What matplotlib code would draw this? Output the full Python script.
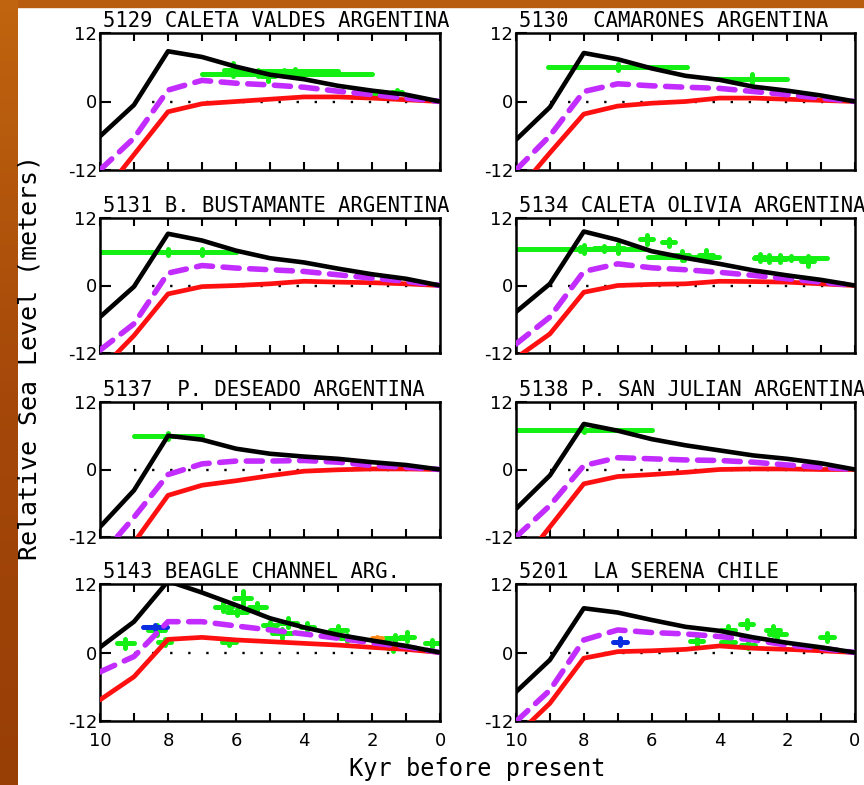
import numpy as np
import matplotlib.pyplot as plt
from matplotlib.patches import Rectangle
from matplotlib.colors import LinearSegmentedColormap
from matplotlib.ticker import MultipleLocator

plt.rcParams['axes.unicode_minus'] = False

# model time steps, kyr before present
ages = [10, 9, 8, 7, 6, 5, 4, 3, 2, 1, 0]

# predicted relative sea level (m) for three earth models at each site
black_5129 = [-6.1, -0.6, 8.8, 7.8, 6.1, 4.7, 3.9, 2.75, 1.9, 1.2, 0]
purple_5129 = [-12.0, -6.4, 2.0, 3.7, 3.2, 2.9, 2.5, 1.8, 1.2, 0.6, 0]
red_5129 = [-16.8, -9.3, -1.8, -0.4, 0.0, 0.4, 0.8, 0.8, 0.6, 0.3, 0]

black_5130 = [-6.7, -1.0, 8.5, 7.4, 5.8, 4.5, 3.8, 2.6, 1.9, 1.05, 0]
purple_5130 = [-12.0, -6.0, 1.75, 3.1, 2.75, 2.5, 2.3, 1.75, 1.2, 0.6, 0]
red_5130 = [-16.0, -9.0, -2.2, -0.8, -0.3, 0.0, 0.6, 0.6, 0.4, 0.2, 0]

black_5131 = [-5.6, -0.2, 9.2, 8.0, 6.2, 4.85, 4.1, 3.0, 2.0, 1.2, 0]
purple_5131 = [-11.5, -6.8, 2.2, 3.55, 3.1, 2.8, 2.5, 1.9, 1.3, 0.75, 0]
red_5131 = [-15.1, -8.9, -1.5, -0.2, 0.0, 0.3, 0.75, 0.6, 0.5, 0.3, 0]

black_5134 = [-4.7, 0.3, 9.6, 8.1, 6.1, 4.9, 3.85, 2.7, 1.8, 1.0, 0]
purple_5134 = [-10.4, -5.6, 2.5, 3.85, 3.15, 2.8, 2.35, 1.8, 1.2, 0.6, 0]
red_5134 = [-12.9, -8.6, -1.2, 0.0, 0.2, 0.3, 0.75, 0.7, 0.6, 0.3, 0]

black_5137 = [-10.2, -3.7, 6.0, 5.3, 3.7, 2.8, 2.3, 1.9, 1.3, 0.8, 0]
purple_5137 = [-15.5, -8.5, -0.9, 1.0, 1.5, 1.5, 1.6, 1.3, 0.7, 0.4, 0]
red_5137 = [-20.0, -13.0, -4.6, -2.8, -2.0, -1.1, -0.3, -0.05, 0.1, 0.1, 0]

black_5138 = [-7.0, -1.05, 8.1, 6.9, 5.4, 4.3, 3.4, 2.5, 1.9, 1.1, 0]
purple_5138 = [-12.0, -6.4, 0.7, 2.1, 1.9, 1.7, 1.6, 1.3, 0.8, 0.4, 0]
red_5138 = [-17.8, -10.2, -2.55, -1.25, -0.9, -0.5, 0.0, 0.1, 0.1, 0.0, 0]

black_5143 = [0.9, 5.4, 12.5, 10.5, 8.3, 6.0, 4.4, 3.1, 2.1, 1.15, 0]
purple_5143 = [-3.4, -0.7, 5.4, 5.4, 4.65, 3.95, 3.25, 2.5, 1.7, 1.0, 0]
red_5143 = [-8.3, -4.25, 2.3, 2.65, 2.2, 1.9, 1.6, 1.3, 0.9, 0.55, 0]

black_5201 = [-6.9, -1.3, 7.75, 7.0, 5.7, 4.5, 3.8, 2.65, 1.7, 0.9, 0]
purple_5201 = [-12.1, -6.6, 2.2, 3.95, 3.5, 3.25, 2.8, 2.2, 1.3, 0.75, 0]
red_5201 = [-14.6, -8.9, -1.0, 0.15, 0.3, 0.55, 1.15, 0.75, 0.55, 0.3, 0]

# observed sea-level indicators: (age, age error, height, height error)
obs_5129 = [(4.5, 2.5, 4.8, 0.2), (4.6, 1.6, 5.3, 0.2), (6.1, 0.25, 5.6, 1.2),
            (5.35, 0.25, 5.0, 0.6), (5.06, 0.2, 4.5, 0.9), (4.26, 0.3, 5.1, 0.6),
            (1.27, 0.15, 1.7, 0.4), (2.06, 0.3, 1.1, 0.3)]
obs_5130 = [(7.0, 2.05, 6.0, 0.5), (3.05, 1.05, 4.0, 0.8)]
obs_5131 = [(8.0, 2.0, 6.0, 0.5), (7.0, 1.0, 6.0, 0.5)]
obs_5134 = [(8.1, 1.9, 6.5, 0.3), (8.0, 0.2, 6.5, 0.7), (7.0, 0.2, 6.6, 0.8),
            (7.4, 0.3, 6.6, 0.5), (6.15, 0.2, 8.2, 0.8), (5.5, 0.2, 7.7, 0.6),
            (5.05, 1.05, 5.0, 0.4), (5.1, 0.2, 5.4, 0.8), (4.4, 0.2, 5.5, 0.9),
            (1.9, 1.07, 4.9, 0.4), (2.8, 0.15, 5.0, 0.6), (2.55, 0.2, 4.8, 0.7),
            (2.2, 0.15, 4.8, 0.6), (1.4, 0.2, 4.4, 0.9)]
obs_5137 = [(8.0, 1.0, 6.0, 0.5)]
obs_5138 = [(8.0, 2.0, 7.0, 0.4)]
obs_5143 = [(9.26, 0.25, 1.6, 0.8), (8.33, 0.25, 3.9, 0.9), (8.1, 0.2, 1.8, 0.5),
            (6.38, 0.25, 8.0, 0.8), (6.2, 0.2, 1.9, 0.5), (5.97, 0.3, 7.1, 0.6),
            (5.8, 0.25, 9.5, 1.2), (5.38, 0.25, 8.0, 0.7), (5.0, 0.2, 4.8, 0.6),
            (4.65, 0.3, 3.4, 0.8), (4.47, 0.25, 5.2, 0.8), (3.9, 0.2, 4.5, 0.6),
            (3.0, 0.25, 3.9, 0.8), (2.75, 0.2, 2.5, 0.5), (1.32, 0.3, 2.5, 0.6),
            (0.97, 0.2, 2.8, 0.8), (1.38, 0.15, 0.8, 0.5), (0.24, 0.2, 1.65, 0.6)]
obs_5201 = [(4.67, 0.2, 2.0, 0.6), (3.74, 0.2, 3.9, 0.7), (3.74, 0.2, 1.9, 0.5),
            (3.2, 0.2, 5.0, 0.7), (3.15, 0.2, 1.3, 0.5), (2.42, 0.2, 3.9, 0.8),
            (2.3, 0.25, 3.2, 0.7), (0.83, 0.2, 2.7, 0.7)]
blue_5143 = [(8.38, 0.35, 4.5, 0.4)]
orange_5143 = [(1.85, 0.15, 2.5, 0.3)]
blue_5201 = [(6.93, 0.2, 1.9, 0.6)]

titles = ["5129 CALETA VALDES ARGENTINA", "5130  CAMARONES ARGENTINA",
          "5131 B. BUSTAMANTE ARGENTINA", "5134 CALETA OLIVIA ARGENTINA",
          "5137  P. DESEADO ARGENTINA", "5138 P. SAN JULIAN ARGENTINA",
          "5143 BEAGLE CHANNEL ARG.", "5201  LA SERENA CHILE"]
blacks = [black_5129, black_5130, black_5131, black_5134,
          black_5137, black_5138, black_5143, black_5201]
purples = [purple_5129, purple_5130, purple_5131, purple_5134,
           purple_5137, purple_5138, purple_5143, purple_5201]
reds = [red_5129, red_5130, red_5131, red_5134,
        red_5137, red_5138, red_5143, red_5201]
greens = [obs_5129, obs_5130, obs_5131, obs_5134,
          obs_5137, obs_5138, obs_5143, obs_5201]
extras = {6: [(blue_5143, '#0a2ee0'), (orange_5143, '#ff8c1a')],
          7: [(blue_5201, '#0a2ee0')]}

W, H = 864, 785
fig = plt.figure(figsize=(W / 100, H / 100), dpi=100)

# slide-style border on the left and top
strip = fig.add_axes([0, 0, 18 / W, 1])
strip.imshow(np.linspace(0, 1, 64).reshape(-1, 1), aspect='auto',
             cmap=LinearSegmentedColormap.from_list('edge', ['#c0640f', '#a5480a', '#983f06']))
strip.axis('off')
fig.add_artist(Rectangle((0, 1 - 7 / H), 1, 7 / H, transform=fig.transFigure,
                         color='#b85c0e', zorder=0))

col_x = [(100, 440), (516, 855)]
row_y = [(33, 170), (218, 353), (402, 537), (584, 721)]


def draw_obs(ax, pts, color, z):
    a = np.array(pts)
    hl = ax.hlines(a[:, 2], a[:, 0] - a[:, 1], a[:, 0] + a[:, 1], colors=color,
                   linewidth=3.6, zorder=z)
    vl = ax.vlines(a[:, 0], a[:, 2] - a[:, 3], a[:, 2] + a[:, 3], colors=color,
                   linewidth=3.6, zorder=z)
    hl.set_capstyle('round')
    vl.set_capstyle('round')


for i in range(8):
    row, col = divmod(i, 2)
    x0, x1 = col_x[col]
    y0, y1 = row_y[row]
    ax = fig.add_axes([x0 / W, 1 - y1 / H, (x1 - x0) / W, (y1 - y0) / H])

    ax.plot([9, 0.5], [0, 0], ls=(0, (1, 6.65)), lw=1.7, color='k', zorder=1)
    draw_obs(ax, greens[i], '#14f014', 2)
    for pts, c in extras.get(i, []):
        draw_obs(ax, pts, c, 2.5)

    ax.plot(ages, reds[i], color='#ff1010', lw=3.4, solid_capstyle='round',
            solid_joinstyle='round', zorder=3)
    ax.plot(ages, purples[i], color='#c22cff', lw=4.0, dashes=(2.9, 1.9),
            dash_capstyle='round', zorder=4)
    ax.plot(ages, blacks[i], color='k', lw=3.3, solid_capstyle='round',
            solid_joinstyle='round', zorder=5)

    ax.set_xlim(10, 0)
    ax.set_ylim(-12, 12)
    ax.set_yticks([-12, 0, 12])
    ax.xaxis.set_major_locator(MultipleLocator(2))
    ax.xaxis.set_minor_locator(MultipleLocator(1))
    ax.tick_params(axis='x', which='both', direction='in', top=True, bottom=True,
                   length=6, width=1.5, labelsize=13, pad=8,
                   labelbottom=(row == 3))
    ax.tick_params(axis='y', direction='in', left=True, right=False,
                   length=8, width=1.5, labelsize=13, pad=2)
    for sp in ax.spines.values():
        sp.set_linewidth(1.8)

    ax.annotate(titles[i], xy=(0, 1), xycoords='axes fraction',
                xytext=(2, 4.5), textcoords='offset points',
                ha='left', va='baseline', family='DejaVu Sans Mono',
                fontsize=14.8, annotation_clip=False)

fig.text(30 / W, 1 - 357 / H, "Relative Sea Level (meters)", rotation=90,
         ha='center', va='center', family='DejaVu Sans Mono', fontsize=18)
fig.text(477 / W, 1 - 769 / H, "Kyr before present", ha='center', va='center',
         family='DejaVu Sans Mono', fontsize=17)

fig.savefig('out.png', dpi=100)
